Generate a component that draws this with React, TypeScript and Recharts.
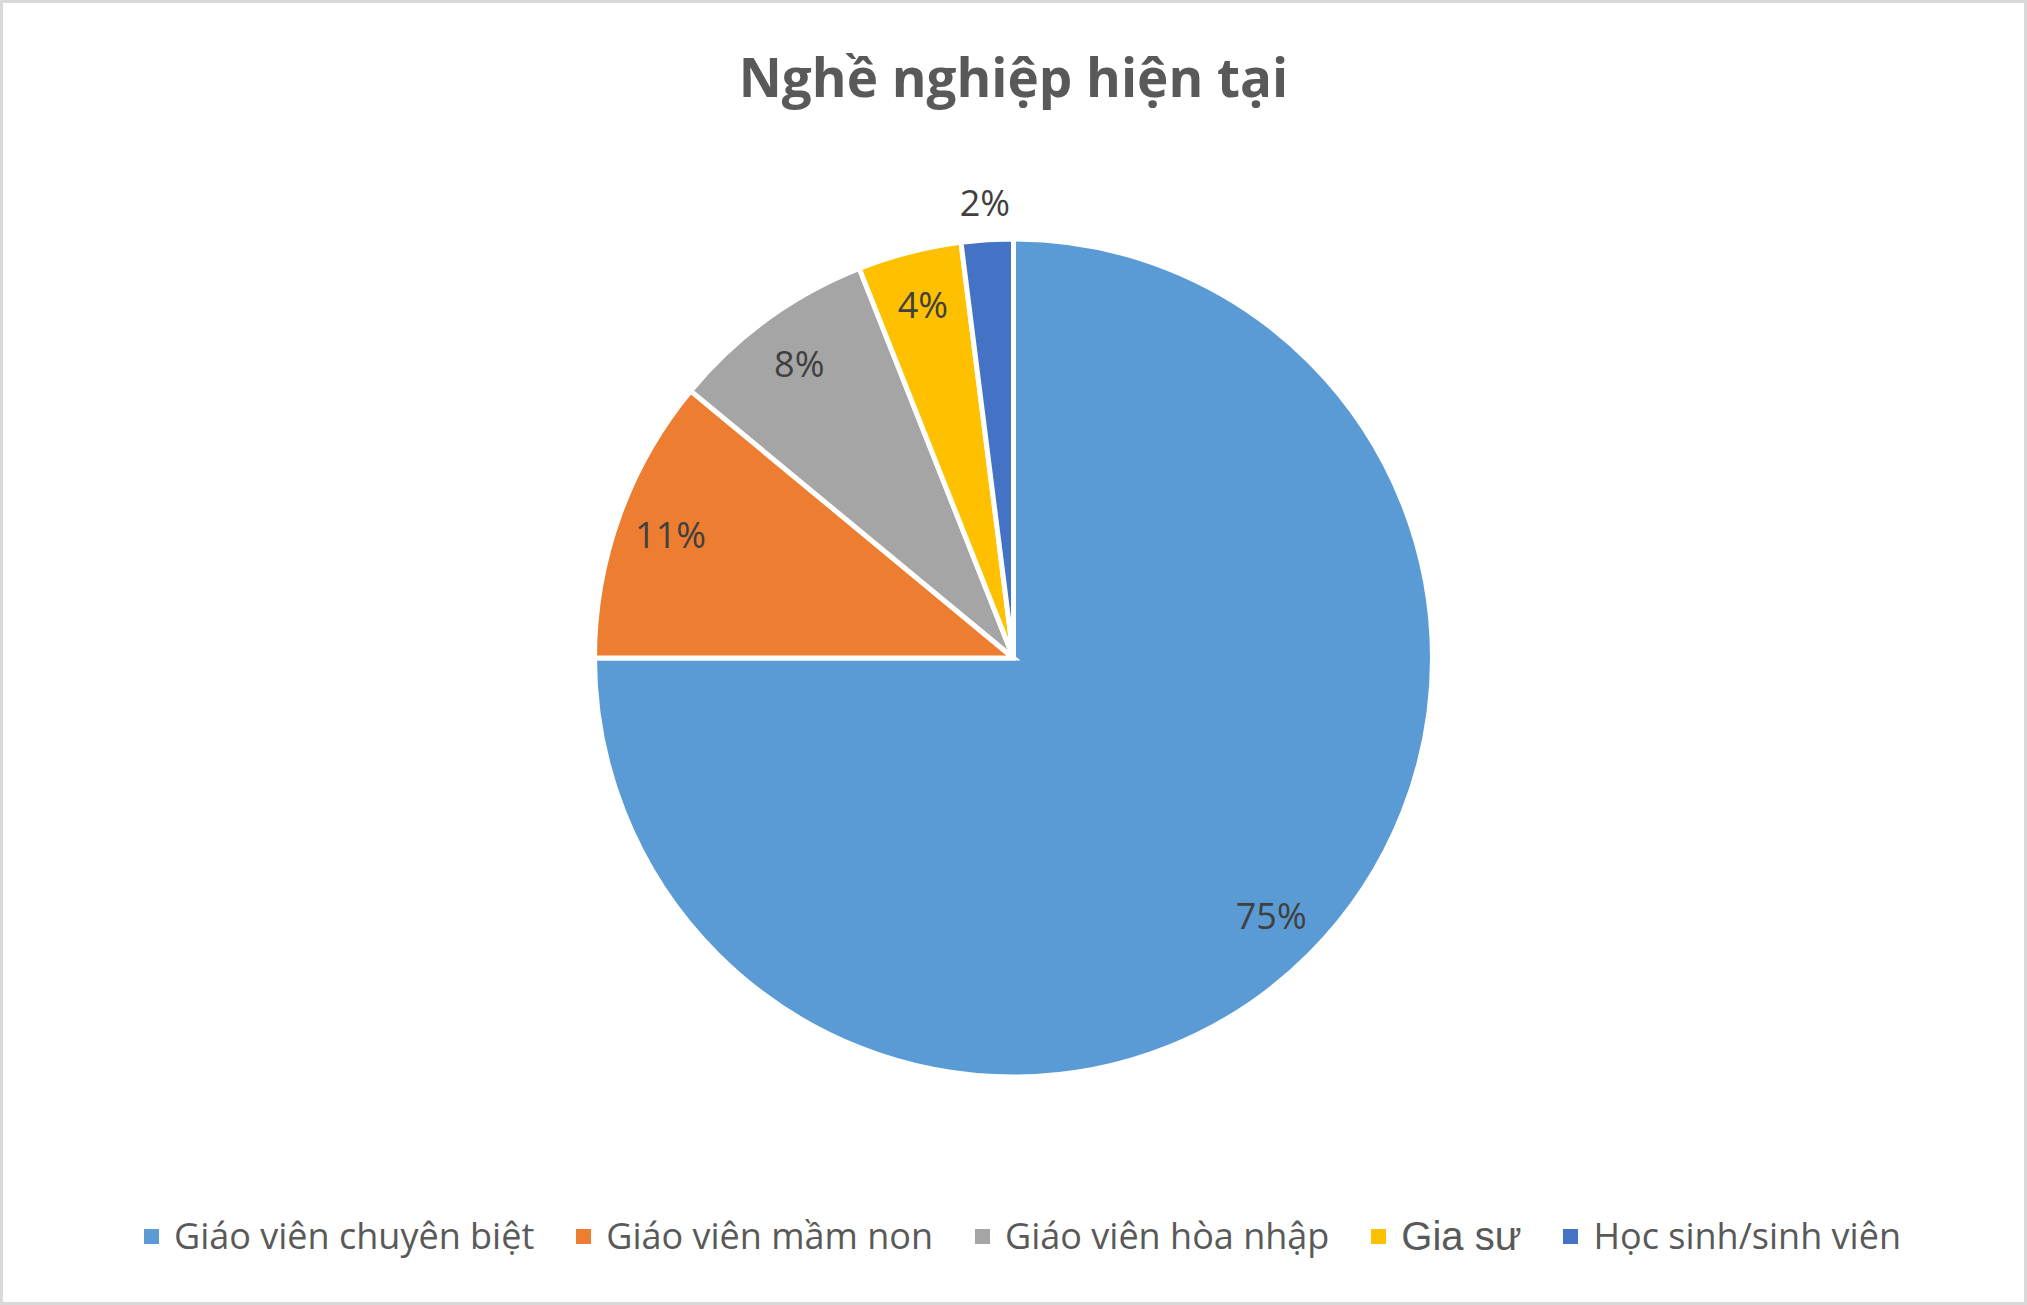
import { Cell, Legend, Pie, PieChart } from "recharts";

const CATEGORIES = [
  "Giáo viên chuyên biệt",
  "Giáo viên mầm non",
  "Giáo viên hòa nhập",
  "Gia sư",
  "Học sinh/sinh viên",
];
const SHARES = [75, 11, 8, 4, 2];
const COLORS = ["#5B9BD5", "#ED7D31", "#A5A5A5", "#FFC000", "#4472C4"];

const TITLE = "Nghề nghiệp hiện tại";
const FONT = "'Open Sans', 'Noto Sans', sans-serif";
const RAD = Math.PI / 180;

const data = CATEGORIES.map((name, i) => ({ name, value: SHARES[i] }));

// nhãn phần trăm: bên trong lát, lát nhỏ (<3%) đặt ra ngoài
function renderLabel(props: any) {
  const { cx, cy, midAngle, outerRadius, percent } = props;
  const r = percent < 0.03 ? outerRadius * 1.09 : outerRadius * 0.87;
  const x = cx + r * Math.cos(-midAngle * RAD);
  const y = cy + r * Math.sin(-midAngle * RAD);
  return (
    <text
      x={x}
      y={y}
      textAnchor="middle"
      dominantBaseline="central"
      fill="#404040"
      fontFamily={FONT}
      fontSize={36}
    >
      {`${Math.round(percent * 100)}%`}
    </text>
  );
}

function LegendRow({ payload }: any) {
  // giữ đúng thứ tự dữ liệu (Recharts mặc định sắp xếp theo tên)
  const items = [...(payload ?? [])].sort(
    (a: any, b: any) => CATEGORIES.indexOf(a.value) - CATEGORIES.indexOf(b.value)
  );
  return (
    <div
      style={{
        display: "flex",
        justifyContent: "center",
        alignItems: "center",
        height: 40,
        paddingLeft: 18,
      }}
    >
      {items.map((p: any, i: number) => {
        const isArial = p.value === "Gia sư";
        return (
          <div
            key={p.value}
            style={{
              display: "flex",
              alignItems: "center",
              marginRight: i === items.length - 1 ? 0 : 42,
            }}
          >
            <span
              style={{
                width: 15,
                height: 15,
                background: COLORS[CATEGORIES.indexOf(p.value)] ?? p.color,
                marginRight: 15,
                display: "inline-block",
              }}
            />
            <span
              style={{
                fontFamily: isArial ? "'Liberation Sans', Arial, sans-serif" : FONT,
                fontSize: isArial ? 40 : 36,
                lineHeight: 1,
                color: "#595959",
                whiteSpace: "nowrap",
              }}
            >
              {p.value}
            </span>
          </div>
        );
      })}
    </div>
  );
}

export default function App() {
  return (
    <div
      style={{
        position: "absolute",
        left: 0,
        top: 0,
        width: 2027,
        height: 1305,
        background: "#fff",
        overflow: "hidden",
      }}
    >
      <div
        style={{
          position: "absolute",
          top: 50,
          left: 0,
          width: 2027,
          textAlign: "center",
          fontFamily: FONT,
          fontWeight: 700,
          fontSize: 53,
          lineHeight: 1,
          color: "#595959",
        }}
      >
        {TITLE}
      </div>
      <PieChart
        width={2027}
        height={1305}
        margin={{ top: 0, right: 0, bottom: 0, left: 0 }}
        style={{ position: "absolute", left: 0, top: 0 }}
      >
        <Pie
          data={data}
          dataKey="value"
          nameKey="name"
          cx={1013.5}
          cy={658}
          outerRadius={419}
          startAngle={90}
          endAngle={-270}
          stroke="#fff"
          strokeWidth={5}
          label={renderLabel}
          labelLine={false}
          isAnimationActive={false}
        >
          {data.map((d, i) => (
            <Cell key={d.name} fill={COLORS[i]} />
          ))}
        </Pie>
        <Legend
          content={<LegendRow />}
          wrapperStyle={{ top: 1216, left: 0, width: 2027, bottom: "auto" }}
        />
      </PieChart>
      <div
        style={{
          position: "absolute",
          inset: 0,
          border: "3px solid #D9D9D9",
          boxSizing: "border-box",
          pointerEvents: "none",
        }}
      />
    </div>
  );
}
